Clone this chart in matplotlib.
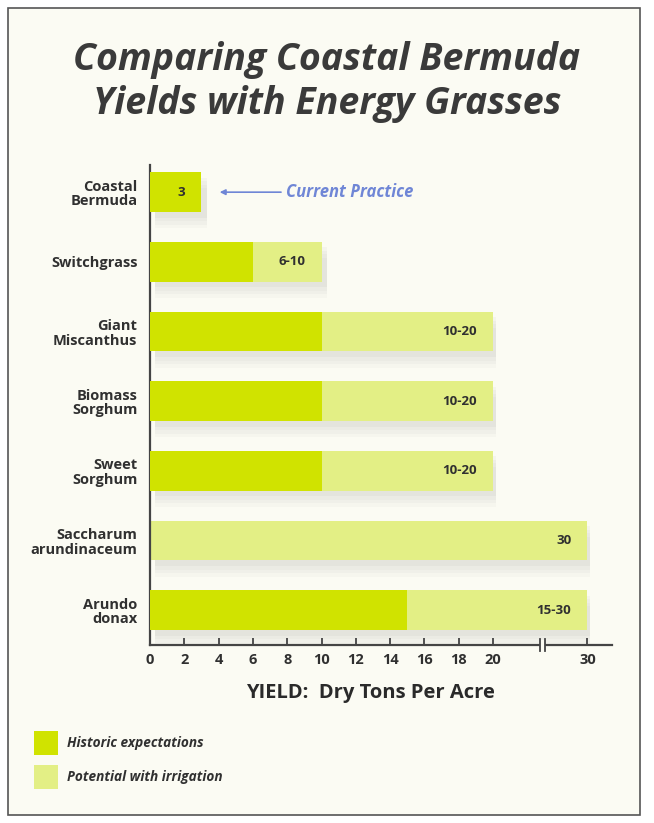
import matplotlib
matplotlib.use('Agg')
import matplotlib.pyplot as plt
import matplotlib.transforms as mtransforms
from matplotlib.patches import Rectangle
import numpy as np

# data
categories = ['Coastal\nBermuda', 'Switchgrass', 'Giant\nMiscanthus', 'Biomass\nSorghum',
              'Sweet\nSorghum', 'Saccharum\narundinaceum', 'Arundo\ndonax']
historic = [3, 6, 10, 10, 10, 0, 15]
irrigated = [3, 10, 20, 20, 20, 30, 30]
range_labels = ['3', '6-10', '10-20', '10-20', '10-20', '30', '15-30']
xticks = [0, 2, 4, 6, 8, 10, 12, 14, 16, 18, 20, 30]

dark = '#d0e300'
light = '#e3ef85'
text_col = '#303030'
font = 'Open Sans'


# broken axis: 20..30 squeezed
def fwd(v):
    v = np.asarray(v, dtype=float)
    return np.where(v <= 20, v, 20 + (v - 20) * 0.55)


def inv(u):
    u = np.asarray(u, dtype=float)
    return np.where(u <= 20, u, 20 + (u - 20) / 0.55)


fig = plt.figure(figsize=(6.54, 8.23), dpi=100)
fig.patch.set_facecolor('white')
fig.patches.append(Rectangle((8 / 654, 8 / 823), 632 / 654, 807 / 823, transform=fig.transFigure,
                             facecolor='#fbfbf3', edgecolor='#555555', lw=1.2, zorder=-5))

ax = fig.add_axes([150 / 654, 1 - 645 / 823, 462 / 654, 480 / 823])
ax.set_facecolor('none')
ax.set_xscale('function', functions=(fwd, inv))
ax.set_xlim(0, 32.6)
ax.set_ylim(6.5, -0.39)

y = np.arange(len(categories))
h = 0.574

# soft shadows under the bars
for k, a in enumerate([0.05, 0.045, 0.04, 0.035]):
    off = 0.08 + 0.05 * k
    ax.barh(y + off, irrigated, height=h, left=0.3, color='#777777', alpha=a, zorder=1, lw=0)

ax.barh(y, irrigated, height=h, color=light, zorder=2, lw=0)
ax.barh(y, historic, height=h, color=dark, zorder=3, lw=0)

# range labels, right aligned inside bar end
for i, lab in enumerate(range_labels):
    ax.annotate(lab, xy=(irrigated[i], y[i]), xytext=(-16, 0), textcoords='offset pixels',
                ha='right', va='center', fontsize=9.5, fontweight='bold', color=text_col,
                family=font, zorder=5)

# current practice arrow
ax.annotate('', xy=(3.9, 0), xytext=(7.8, 0),
            arrowprops=dict(arrowstyle='-|>', color='#6f86d6', lw=1.2, mutation_scale=8), zorder=5)
ax.text(7.9, 0, 'Current Practice', ha='left', va='center', fontsize=12, style='italic',
        fontweight='bold', color='#6f86d6', family=font, zorder=5)

ax.set_yticks(y)
ax.set_yticklabels(categories, fontsize=10.5, fontweight='bold', color=text_col, family=font,
                   linespacing=1.05)
ax.tick_params(axis='y', length=0, pad=9)

ax.set_xticks(xticks)
ax.set_xticklabels([str(t) for t in xticks], fontsize=10.5, fontweight='bold', color=text_col,
                   family=font)
ax.tick_params(axis='x', direction='in', length=5, width=1.3, color='#444444', pad=6)
ax.xaxis.set_minor_locator(matplotlib.ticker.NullLocator())

for s in ['top', 'right']:
    ax.spines[s].set_visible(False)
for s in ['left', 'bottom']:
    ax.spines[s].set_color('#444444')
    ax.spines[s].set_linewidth(1.6)

# axis break marks
trans = mtransforms.blended_transform_factory(ax.transData, ax.transAxes)
ax.add_patch(Rectangle((25.0, -0.01), 0.55, 0.02, transform=trans, facecolor='#fbfbf3',
                       edgecolor='none', clip_on=False, zorder=6))
for bx in [25.0, 25.55]:
    ax.plot([bx, bx], [-0.012, 0.012], transform=trans, color='#444444', lw=1.3,
            clip_on=False, zorder=7)

# title and axis label
fig.text(0.5, 1 - 82 / 823, 'Comparing Coastal Bermuda\nYields with Energy Grasses',
         ha='center', va='center', fontsize=27, fontweight='bold', style='italic',
         color='#3a3a3a', family=font, linespacing=1.2)
fig.text(370 / 654, 1 - 693 / 823, 'YIELD:  Dry Tons Per Acre', ha='center', va='center',
         fontsize=14.5, fontweight='bold', color='#2a2a2a', family=font)

# legend
for yy, c, lab in [(743, dark, 'Historic expectations'), (777, light, 'Potential with irrigation')]:
    fig.patches.append(Rectangle((34 / 654, 1 - (yy + 12) / 823), 24 / 654, 24 / 823,
                                 transform=fig.transFigure, facecolor=c, edgecolor='none'))
    fig.text(67 / 654, 1 - yy / 823, lab, ha='left', va='center', fontsize=9.8,
             fontweight='bold', style='italic', color=text_col, family=font)

fig.savefig('out.png', dpi=100)
